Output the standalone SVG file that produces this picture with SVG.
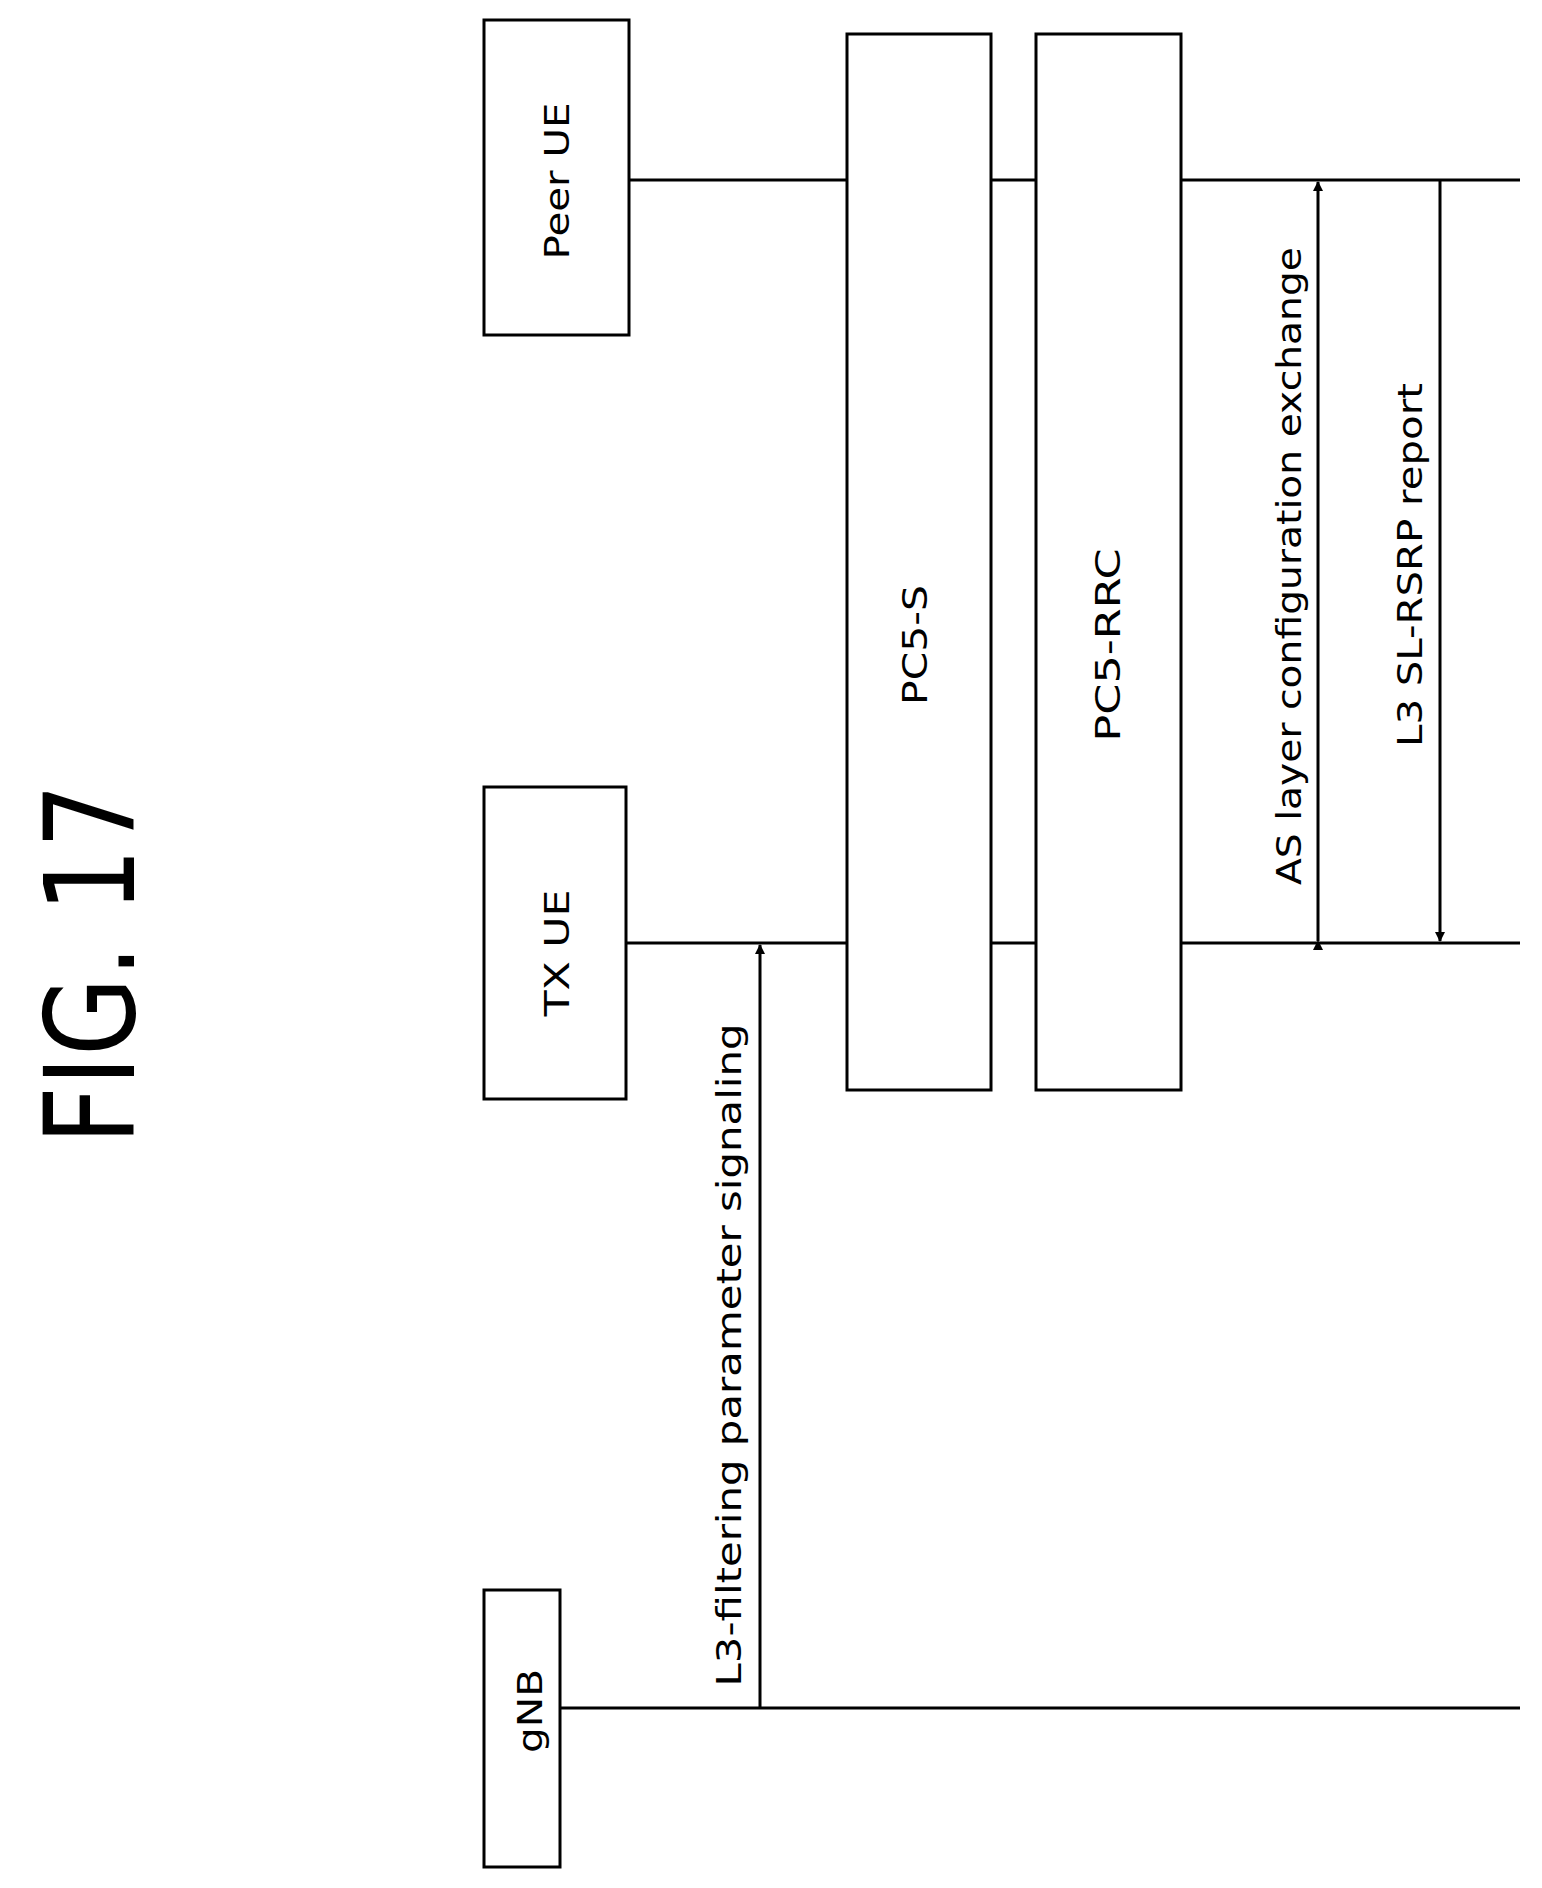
<svg xmlns="http://www.w3.org/2000/svg" width="1542" height="1888" viewBox="0 0 1542 1888">
<style>
.b{fill:#fff;stroke:#000;stroke-width:3}
.l{stroke:#000;stroke-width:3;fill:none}
.t{font-family:"DejaVu Sans",sans-serif;font-size:33px;text-anchor:middle;dominant-baseline:central}
</style>
<defs>
<marker id="a" markerWidth="10" markerHeight="14" refX="9" refY="7" orient="auto" markerUnits="userSpaceOnUse">
<path d="M0,2 L10,7 L0,12 z" fill="#000"/>
</marker>
</defs>
<rect width="1542" height="1888" fill="#fff"/>
<text class="t" transform="translate(90,964) rotate(-90)" style="font-size:125px" textLength="361" lengthAdjust="spacingAndGlyphs">FIG. 17</text>
<g id="connectors">
<line class="l" x1="560" y1="1708" x2="1520" y2="1708"/>
<line class="l" x1="626" y1="943" x2="1520" y2="943"/>
<line class="l" x1="629" y1="180" x2="1520" y2="180"/>
<line class="l" x1="760" y1="1708" x2="760" y2="945" marker-end="url(#a)"/>
<line class="l" x1="1318" y1="941" x2="1318" y2="182" marker-end="url(#a)" marker-start="url(#a)"/>
<line class="l" x1="1440" y1="180" x2="1440" y2="941" marker-end="url(#a)"/>
<text class="t" transform="translate(729,1355) rotate(-90)" textLength="663" lengthAdjust="spacingAndGlyphs">L3-filtering parameter signaling</text>
<text class="t" transform="translate(1289,566) rotate(-90)" textLength="638" lengthAdjust="spacingAndGlyphs">AS layer configuration exchange</text>
<text class="t" transform="translate(1410,565) rotate(-90)" textLength="364" lengthAdjust="spacingAndGlyphs">L3 SL-RSRP report</text>
</g>
<g id="gNB"><rect class="b" x="484" y="1590" width="76" height="277"/><text class="t" transform="translate(530,1711) rotate(-90)" textLength="84" lengthAdjust="spacingAndGlyphs">gNB</text></g>
<g id="txue"><rect class="b" x="484" y="787" width="142" height="312"/><text class="t" transform="translate(557,953) rotate(-90)" textLength="127" lengthAdjust="spacingAndGlyphs">TX UE</text></g>
<g id="peerue"><rect class="b" x="484" y="20" width="145" height="315"/><text class="t" transform="translate(557,181) rotate(-90)" textLength="157" lengthAdjust="spacingAndGlyphs">Peer UE</text></g>
<g id="pc5s"><rect class="b" x="847" y="34" width="144" height="1056"/><text class="t" transform="translate(915,645) rotate(-90)" textLength="120" lengthAdjust="spacingAndGlyphs">PC5-S</text></g>
<g id="pc5rrc"><rect class="b" x="1036" y="34" width="145" height="1056"/><text class="t" transform="translate(1108,645) rotate(-90)" textLength="193" lengthAdjust="spacingAndGlyphs">PC5-RRC</text></g>
</svg>
